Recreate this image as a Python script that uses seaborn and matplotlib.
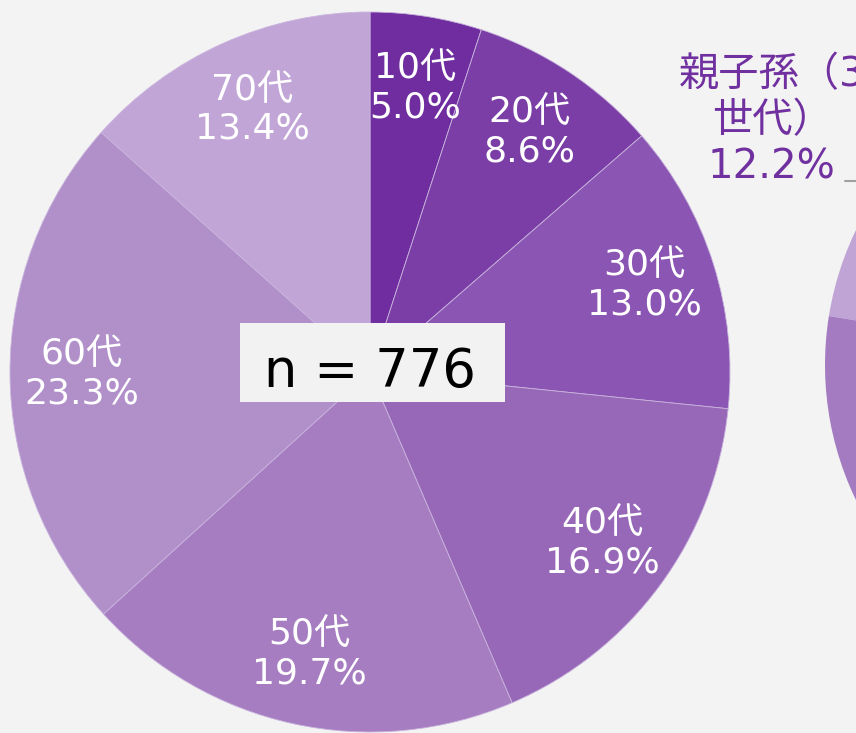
import matplotlib
matplotlib.use("Agg")
import matplotlib.pyplot as plt
import seaborn as sns

# age groups, clockwise from 12 o'clock
ages = ['10代', '20代', '30代', '40代', '50代', '60代', '70代']
shares = [5.0, 8.6, 13.0, 16.9, 19.7, 23.3, 13.4]
age_colors = ['#6F2DA0', '#7A3EA6', '#8A55B3', '#9868B8', '#A67DC1', '#B190CA', '#C2A5D7']
n_total = 776

# neighbouring chart (household type), only partly visible on the right
household = ['親子孫（3世代）', 'その他']
household_shares = [12.2, 87.8]
household_colors = ['#C1A4D6', '#A47BC0']

sns.set_theme(style='white')
plt.rcParams['font.family'] = ['DejaVu Sans', 'Noto Sans CJK JP']

bg = '#F3F3F3'
W, H = 856, 733
fig = plt.figure(figsize=(W / 100, H / 100), dpi=100, facecolor=bg)

# main pie
ax = fig.add_axes([10 / W, 1 / H, 720 / W, 720 / H])
ax.set_facecolor('none')
labels = [f'{a}\n{s:.1f}%' for a, s in zip(ages, shares)]
wedges, texts = ax.pie(shares, labels=labels, colors=sns.color_palette(age_colors),
                       startangle=90, counterclock=False, labeldistance=0.8,
                       wedgeprops=dict(linewidth=0.6, edgecolor='#C9B3DD'),
                       textprops=dict(color='white', fontsize=26))
for t in texts:
    t.set_ha('center')
    t.set_va('center')
    t.set_linespacing(1.2)
ax.set_xlim(-1, 1)
ax.set_ylim(-1, 1)
ax.set_aspect('equal')

# sample size box
fig.add_artist(plt.Rectangle((240 / W, 1 - 402 / H), 265 / W, 79 / H,
                             transform=fig.transFigure, facecolor='#F2F2F2',
                             edgecolor='none', zorder=5))
fig.text(370 / W, 1 - 387 / H, f'n = {n_total}', ha='center', va='baseline',
         fontsize=38, color='black', zorder=6)

# second pie, cut off by the figure edge
ax2 = fig.add_axes([825 / W, 58 / H, 620 / W, 620 / H])
ax2.set_facecolor('none')
ax2.pie(household_shares, colors=household_colors, startangle=127, counterclock=True,
        wedgeprops=dict(linewidth=0))
ax2.set_xlim(-1, 1)
ax2.set_ylim(-1, 1)
ax2.set_aspect('equal')

# label of the neighbouring chart, clipped at the right edge as in the source
fig.text(772 / W, 1 - 121 / H, f'親子孫（3\n世代）\n{household_shares[0]}%',
         ha='center', va='center', fontsize=29, color='#7030A0', linespacing=1.2)
fig.add_artist(plt.Line2D([845 / W, 1.0], [1 - 181 / H, 1 - 181 / H],
                          color='#A0A0A0', linewidth=1.5))

fig.savefig('out.png', dpi=100, facecolor=bg)
